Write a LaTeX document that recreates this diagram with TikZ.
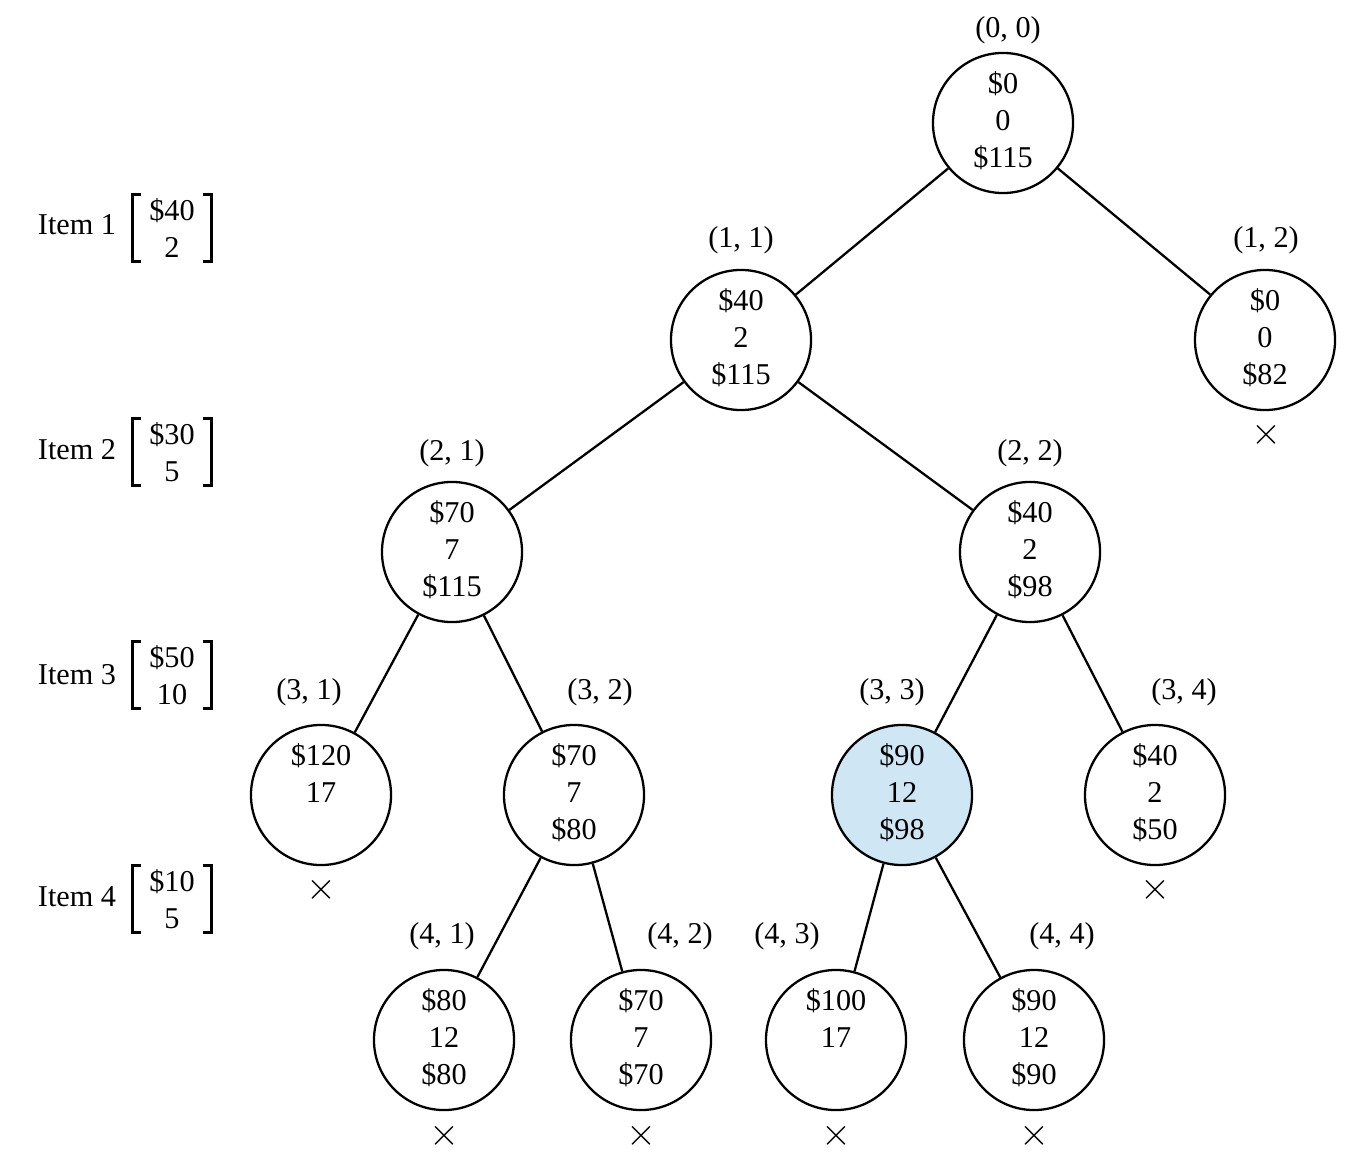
\documentclass[tikz,border=0pt]{standalone}
\usepackage{fontspec}
\setmainfont{Liberation Serif}
\usepackage{tikz}
\usepackage{xcolor}
\definecolor{bestfill}{HTML}{CFE6F4}
\newcommand{\nodetext}[3]{\strut#1\\\strut#2\\\strut#3}

\begin{document}
\begin{tikzpicture}[
      x=0.01cm, y=-0.01cm,
      every node/.style={font=\fontsize{8.6}{10.5}\selectfont},
      state/.style={draw, circle, line width=0.65pt, minimum size=1.4cm, inner sep=0pt, align=center, fill=white},
      best/.style={state, fill=bestfill},
      coord/.style={inner sep=0pt},
      cut/.style={inner sep=0pt, font=\fontsize{11}{12}\selectfont},
      vals/.style={inner sep=0pt, minimum width=0.77cm, minimum height=0.66cm, align=center},
      brk/.style={line width=0.8pt},
      line/.style={line width=0.65pt}
    ]
      \useasboundingbox (0,0) rectangle (1368,1164);

      % item weights and values
      \node[coord] (item1) at (77,225) {Item 1};
      \node[coord] (item2) at (77,450) {Item 2};
      \node[coord] (item3) at (77,675) {Item 3};
      \node[coord] (item4) at (77,897) {Item 4};
      \node[vals] (val1) at (172,228) {\$40\\2};
      \node[vals] (val2) at (172,452) {\$30\\5};
      \node[vals] (val3) at (172,675) {\$50\\10};
      \node[vals] (val4) at (172,899) {\$10\\5};
      \foreach \v in {val1,val2,val3,val4} {
        \draw[brk] ([xshift=0.08cm]\v.north west) -- (\v.north west) -- (\v.south west) -- ([xshift=0.08cm]\v.south west);
        \draw[brk] ([xshift=-0.08cm]\v.north east) -- (\v.north east) -- (\v.south east) -- ([xshift=-0.08cm]\v.south east);
      }

      % tree nodes
      \node[state] (n00) at (1003,123) {\nodetext{\$0}{0}{\$115}};
      \node[state] (n11) at (741,340) {\nodetext{\$40}{2}{\$115}};
      \node[state] (n12) at (1265,340) {\nodetext{\$0}{0}{\$82}};
      \node[state] (n21) at (452,552) {\nodetext{\$70}{7}{\$115}};
      \node[state] (n22) at (1030,552) {\nodetext{\$40}{2}{\$98}};
      \node[state] (n31) at (321,795) {\nodetext{\$120}{17}{}};
      \node[state] (n32) at (574,795) {\nodetext{\$70}{7}{\$80}};
      \node[best] (n33) at (902,795) {\nodetext{\$90}{12}{\$98}};
      \node[state] (n34) at (1155,795) {\nodetext{\$40}{2}{\$50}};
      \node[state] (n41) at (444,1040) {\nodetext{\$80}{12}{\$80}};
      \node[state] (n42) at (641,1040) {\nodetext{\$70}{7}{\$70}};
      \node[state] (n43) at (836,1040) {\nodetext{\$100}{17}{}};
      \node[state] (n44) at (1034,1040) {\nodetext{\$90}{12}{\$90}};

      % node labels
      \node[coord] (l00) at (1008,30) {(0, 0)};
      \node[coord] (l11) at (741,240) {(1, 1)};
      \node[coord] (l12) at (1266,240) {(1, 2)};
      \node[coord] (l21) at (452,453) {(2, 1)};
      \node[coord] (l22) at (1030,453) {(2, 2)};
      \node[coord] (l31) at (309,692) {(3, 1)};
      \node[coord] (l32) at (600,692) {(3, 2)};
      \node[coord] (l33) at (892,692) {(3, 3)};
      \node[coord] (l34) at (1184,692) {(3, 4)};
      \node[coord] (l41) at (442,936) {(4, 1)};
      \node[coord] (l42) at (680,936) {(4, 2)};
      \node[coord] (l43) at (787,936) {(4, 3)};
      \node[coord] (l44) at (1062,936) {(4, 4)};

      % pruned
      \node[cut] (x12) at (1266,435) {$\times$};
      \node[cut] (x31) at (321,890) {$\times$};
      \node[cut] (x34) at (1155,890) {$\times$};
      \node[cut] (x41) at (444,1136) {$\times$};
      \node[cut] (x42) at (641,1136) {$\times$};
      \node[cut] (x43) at (836,1136) {$\times$};
      \node[cut] (x44) at (1034,1136) {$\times$};

      \draw[line] (n00) -- (n11);
      \draw[line] (n00) -- (n12);
      \draw[line] (n11) -- (n21);
      \draw[line] (n11) -- (n22);
      \draw[line] (n21) -- (n31);
      \draw[line] (n21) -- (n32);
      \draw[line] (n22) -- (n33);
      \draw[line] (n22) -- (n34);
      \draw[line] (n32) -- (n41);
      \draw[line] (n32) -- (n42);
      \draw[line] (n33) -- (n43);
      \draw[line] (n33) -- (n44);
    \end{tikzpicture}
\end{document}
